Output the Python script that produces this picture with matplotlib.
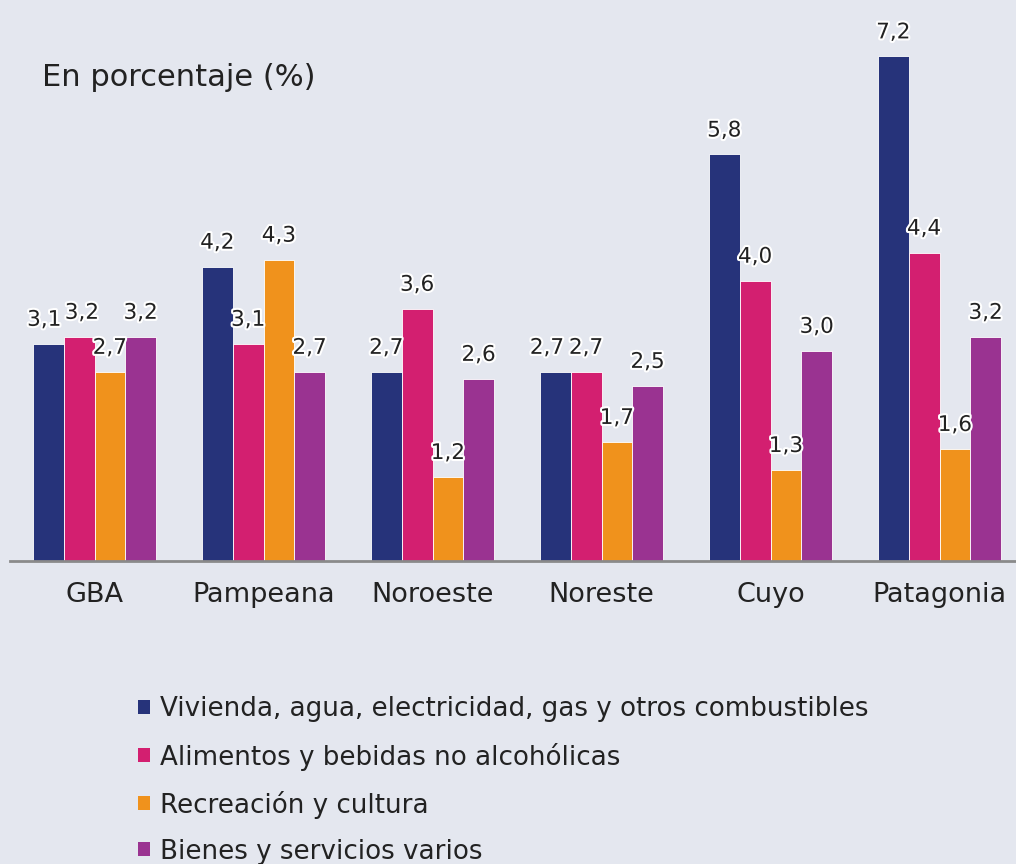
import numpy as np
import matplotlib.pyplot as plt
import matplotlib.patheffects as pe
from matplotlib.patches import Patch

regiones = ["GBA", "Pampeana", "Noroeste", "Noreste", "Cuyo", "Patagonia"]
series = [
    "Vivienda, agua, electricidad, gas y otros combustibles",
    "Alimentos y bebidas no alcohólicas",
    "Recreación y cultura",
    "Bienes y servicios varios",
]
vivienda = [3.1, 4.2, 2.7, 2.7, 5.8, 7.2]
alimentos = [3.2, 3.1, 3.6, 2.7, 4.0, 4.4]
recreacion = [2.7, 4.3, 1.2, 1.7, 1.3, 1.6]
bienes = [3.2, 2.7, 2.6, 2.5, 3.0, 3.2]
colores = ["#26337A", "#D31F70", "#F0921C", "#9A3391"]

fondo = "#E4E7EF"
plt.rcParams['font.family'] = ['DejaVu Sans']

fig = plt.figure(figsize=(10.16, 8.64), dpi=100, facecolor=fondo)
ax = fig.add_axes([10 / 1016, 303 / 864, 1014 / 1016, 561 / 864])
ax.set_facecolor(fondo)

# pequeños corrimientos horizontales (en puntos) para etiquetas que se tocan
nudge = {(0, 0): -3, (1, 0): 2, (0, 3): -6}

x = np.arange(len(regiones))
w = 0.182
valores = [vivienda, alimentos, recreacion, bienes]
for i, (vals, c) in enumerate(zip(valores, colores)):
    pos = x + (i - 1.5) * w
    bars = ax.bar(pos, vals, width=w, color=c, edgecolor="white", linewidth=0.6)
    for j, (b, v) in enumerate(zip(bars, vals)):
        ax.annotate(f"{v:.1f}".replace(".", ","),
                    (b.get_x() + b.get_width() / 2, v),
                    xytext=(nudge.get((i, j), 0), 10), textcoords="offset points",
                    ha="center", va="bottom", fontsize=15.5, color="#222222",
                    path_effects=[pe.withStroke(linewidth=3, foreground="white")])

ax.set_xlim(-0.5, 5.5)
ax.set_ylim(0, 8.003)
for s in ["top", "right", "left"]:
    ax.spines[s].set_visible(False)
ax.spines["bottom"].set_color("#8a8a8a")
ax.spines["bottom"].set_linewidth(2)
ax.set_yticks([])
ax.set_xticks(x)
ax.set_xticklabels(regiones, fontsize=19.5, color="#222222")
ax.tick_params(axis="x", length=0, pad=15)

fig.text(42 / 1016, 1 - 78 / 864, "En porcentaje (%)", fontsize=22,
         color="#222222", va="center", ha="left")

handles = [Patch(facecolor=c, edgecolor="none") for c in colores]
fig.legend(handles, series, loc="upper left",
           bbox_to_anchor=(128 / 1016, 1 - 686 / 864), frameon=False,
           fontsize=18.8, labelcolor="#222222", handlelength=0.45, handleheight=0.45,
           handletextpad=0.38, labelspacing=0.77, borderaxespad=0)

fig.savefig("out.png", dpi=100, facecolor=fondo)
